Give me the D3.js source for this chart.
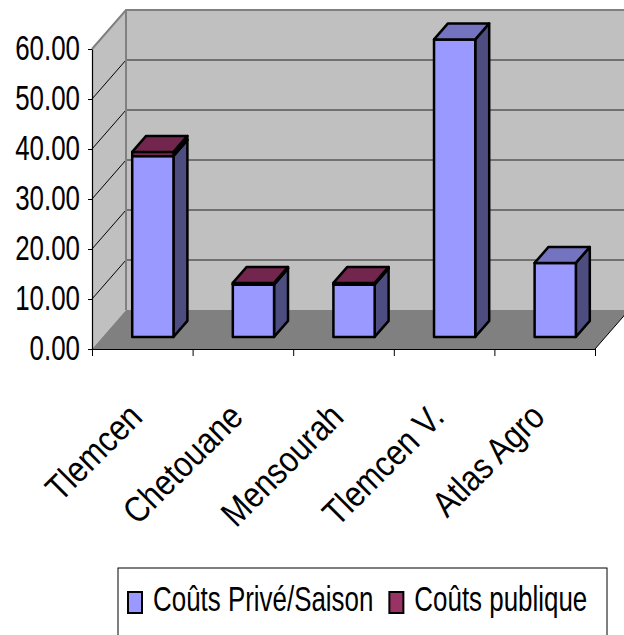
<!DOCTYPE html>
<html>
<head>
<meta charset="utf-8">
<script src="https://cdn.jsdelivr.net/npm/d3@7"></script>
<style>
  html, body { margin: 0; padding: 0; background: #fff; }
  svg { display: block; }
  text { font-family: "Liberation Sans", Arial, sans-serif; fill: #000; }
</style>
</head>
<body>
<svg id="chart" width="624" height="635"></svg>
<script>
// ---- data ----
const categories = ["Tlemcen", "Chetouane", "Mensourah", "Tlemcen V.", "Atlas Agro"];
const coutsPrive = [36.2, 10.5, 10.5, 59.5, 14.8];
const coutsPublique = [0.8, 0.3, 0.3, 0, 0];
const seriesNames = ["Coûts Privé/Saison", "Coûts publique"];
const yTicks = [0, 10, 20, 30, 40, 50, 60];

// ---- styles ----
const colors = [
  { front: "#9999ff", side: "#4d4d80", top: "#7373c0" },
  { front: "#993366", side: "#4d1a33", top: "#73264d" }
];
const wallFill = "#c0c0c0", floorFill = "#808080";

// ---- layout ----
const svg = d3.select("#chart");
const plotLeft = 92, plotRight = 595, plotBottom = 349, plotTop = 49;
const DX = 34, DY = -39;          // full depth offset
const f1 = 0.31, f2 = 0.72;        // bar front/back depth fractions
const sx = 0.72;                   // horizontal condensing of text
const fs = 36;

const x = d3.scaleBand().domain(categories).range([plotLeft, plotRight]);
const xb = d3.scaleLinear().domain([0, categories.length]).range([plotLeft, plotRight]);
const y = d3.scaleLinear().domain([0, 60]).range([plotBottom, plotTop]);
const yBack = v => y(v) + DY;

// side wall
svg.append("polygon")
  .attr("points", [[plotLeft, y(60)], [plotLeft + DX, yBack(60)], [plotLeft + DX, yBack(0)], [plotLeft, y(0)]].join(" "))
  .attr("fill", wallFill);
// back wall
svg.append("polygon")
  .attr("points", [[plotLeft + DX, yBack(60)], [plotRight + DX, yBack(60)], [plotRight + DX, yBack(0)], [plotLeft + DX, yBack(0)]].join(" "))
  .attr("fill", wallFill);

// gridlines
const inner = yTicks.filter(v => v > 0 && v < 60);
svg.append("g").selectAll("line").data(inner).join("line")
  .attr("x1", plotLeft + DX).attr("x2", plotRight + DX)
  .attr("y1", d => yBack(d)).attr("y2", d => yBack(d))
  .attr("stroke", "#222").attr("stroke-width", 1.2);
svg.append("g").selectAll("line").data(inner).join("line")
  .attr("x1", plotLeft).attr("x2", plotLeft + DX)
  .attr("y1", d => y(d)).attr("y2", d => yBack(d))
  .attr("stroke", "#000").attr("stroke-width", 1);

// floor
svg.append("polygon")
  .attr("points", [[plotLeft, y(0)], [plotRight, y(0)], [plotRight + DX, yBack(0)], [plotLeft + DX, yBack(0)]].join(" "))
  .attr("fill", floorFill);
svg.append("line")
  .attr("x1", plotRight).attr("y1", y(0)).attr("x2", plotRight + DX).attr("y2", yBack(0))
  .attr("stroke", "#000").attr("stroke-width", 1);

// wall edges
svg.append("polyline")
  .attr("points", [[plotLeft, y(60)], [plotLeft + DX, yBack(60)], [plotRight + DX, yBack(60)]].join(" "))
  .attr("fill", "none").attr("stroke", "#808080").attr("stroke-width", 2);
svg.append("line")
  .attr("x1", plotLeft + DX).attr("x2", plotLeft + DX)
  .attr("y1", yBack(60)).attr("y2", yBack(0))
  .attr("stroke", "#808080").attr("stroke-width", 2);

// bars
const barW = x.bandwidth() * 0.41;
const bx = DX * f1, by = DY * f1;
const ddx = DX * (f2 - f1), ddy = DY * (f2 - f1);
const barsG = svg.append("g");
categories.forEach((c, i) => {
  const cx = x(c) + x.bandwidth() / 2 + bx;
  const x0 = cx - barW / 2, x1 = cx + barW / 2;
  const segs = [[0, coutsPrive[i]], [coutsPrive[i], coutsPrive[i] + coutsPublique[i]]];
  segs.forEach((s, k) => {
    if (s[1] - s[0] <= 0) return;
    const yb = y(s[0]) + by, yt = y(s[1]) + by;
    const g = barsG.append("g")
      .attr("stroke", "#000").attr("stroke-width", 2.5).attr("stroke-linejoin", "round");
    g.append("polygon")
      .attr("points", [[x1, yb], [x1 + ddx, yb + ddy], [x1 + ddx, yt + ddy], [x1, yt]].join(" "))
      .attr("fill", colors[k].side);
    g.append("rect")
      .attr("x", x0).attr("y", yt).attr("width", barW).attr("height", yb - yt)
      .attr("fill", colors[k].front);
    g.append("polygon")
      .attr("points", [[x0, yt], [x1, yt], [x1 + ddx, yt + ddy], [x0 + ddx, yt + ddy]].join(" "))
      .attr("fill", colors[k].top);
  });
});

// y axis
const yAxis = svg.append("g")
  .attr("transform", `translate(${plotLeft},0)`)
  .call(d3.axisLeft(y).tickValues(yTicks).tickFormat(d3.format(".2f")).tickSize(4).tickSizeOuter(0));
yAxis.select(".domain").attr("stroke", "#000").attr("stroke-width", 1.2);
yAxis.selectAll(".tick line").attr("stroke", "#000");
yAxis.selectAll(".tick text")
  .attr("x", null).attr("dy", null)
  .attr("transform", `translate(-12,10) scale(${sx},1)`)
  .attr("text-anchor", "end")
  .style("font-family", "Liberation Sans, Arial, sans-serif")
  .style("font-size", fs + "px")
  .attr("fill", "#000");

// x axis (ticks at category boundaries)
const xAxis = svg.append("g")
  .attr("transform", `translate(0,${plotBottom})`)
  .call(d3.axisBottom(xb).ticks(categories.length).tickFormat("").tickSize(7).tickSizeOuter(0));
xAxis.select(".domain").attr("stroke", "#000").attr("stroke-width", 1.2);
xAxis.selectAll(".tick line").attr("stroke", "#000");

// category labels
svg.append("g").selectAll("text").data(categories).join("text")
  .attr("transform", d => `translate(${x(d) + x.bandwidth() / 2 + 2},419) rotate(-45) scale(0.86,1)`)
  .attr("text-anchor", "end")
  .style("font-size", fs + "px")
  .text(d => d);

// legend
const lg = svg.append("g");
lg.append("rect")
  .attr("x", 118).attr("y", 568).attr("width", 489).attr("height", 120)
  .attr("fill", "#fff").attr("stroke", "#000").attr("stroke-width", 1);
let lx = 128;
seriesNames.forEach((n, k) => {
  lg.append("rect")
    .attr("x", lx).attr("y", 592).attr("width", 14).attr("height", 21)
    .attr("fill", colors[k].front).attr("stroke", "#000").attr("stroke-width", 2);
  const t = lg.append("text")
    .attr("transform", `translate(${lx + 25},611) scale(${sx},1)`)
    .style("font-size", fs + "px")
    .text(n);
  const w = t.node().getComputedTextLength() * sx;
  lx = lx + 25 + w + 16;
});
</script>
</body>
</html>
